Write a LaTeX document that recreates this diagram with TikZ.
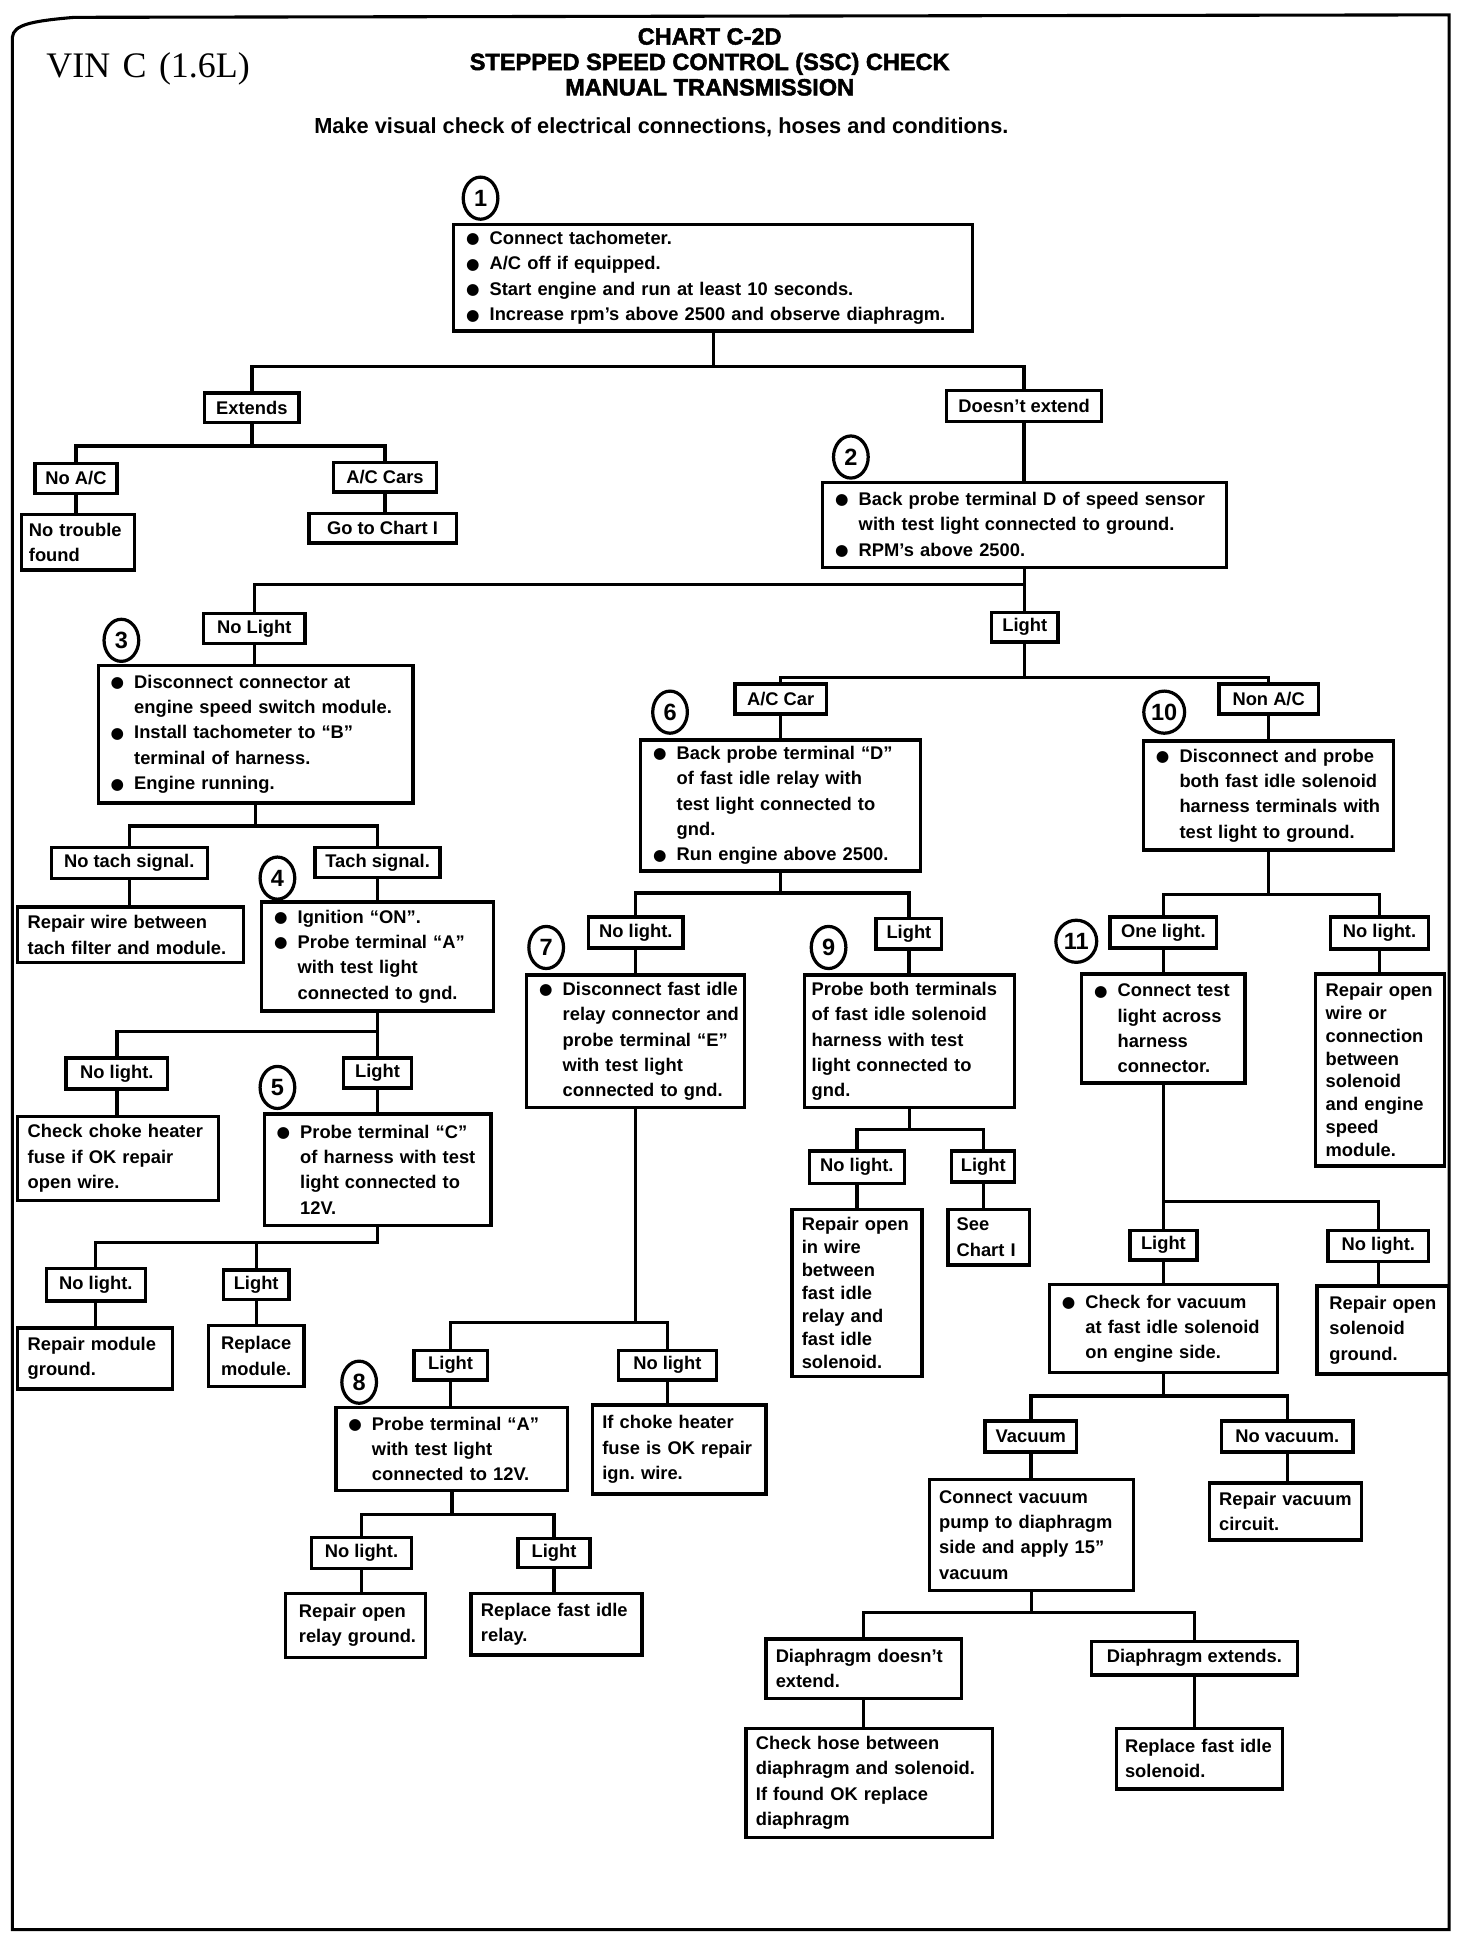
\documentclass[tikz,border=0pt]{standalone}
\usepackage{fontspec}
\setmainfont{Liberation Sans}
\newfontfamily\bxfont{Liberation Sans Bold}
\newfontfamily\ttlfont{Liberation Sans Bold}[FakeBold=2]
\newfontfamily\vinfont{Liberation Serif}
\newfontfamily\symfont{DejaVu Sans}
\usetikzlibrary{shapes.geometric}
\frenchspacing
\newcommand\bl{\makebox[19pt][l]{\raisebox{0.5pt}{\symfont\fontsize{12.5}{12}\selectfont ●}}}
\newcommand\ind{\hspace*{19pt}}
\newcommand\bpad{\leftskip=10pt\relax}
\newcommand\ppad{\leftskip=8pt\relax}
\newcommand\fork[4]{%
  \draw[ln] (#1.south) -- (#1.south |- #2) -- (#3.north |- #2) -- (#3.north);
  \draw[ln] (#4.north) -- (#4.north |- #2) -- (#3.north |- #2);}
\newcommand\lnk[2]{\draw[ln] (#1.south) -- (#1.south |- #2.north);}
\begin{document}
\begin{tikzpicture}[x=1pt,y=-1pt,
  ln/.style={line width=2.7pt, line cap=rect},
  bx/.style 2 args={draw, line width=2.7pt, minimum width=#1pt, minimum height=#2pt,
    text width=#1pt, inner sep=0pt, anchor=north west, align=left,
    font=\bxfont\fontsize{14.8}{20.5}\selectfont},
  bxs/.style 2 args={bx={#1}{#2}, font=\bxfont\fontsize{14.8}{18.5}\selectfont},
  lab/.style 2 args={draw, line width=2.7pt, minimum width=#1pt, minimum height=#2pt,
    inner sep=0pt, anchor=north west, align=center,
    font=\bxfont\fontsize{14.8}{20.5}\selectfont},
  num/.style={draw, ellipse, line width=2.6pt, minimum width=28pt, minimum height=34pt,
    inner sep=0pt, font=\bxfont\fontsize{19}{19}\selectfont},
  numw/.style={num, minimum width=33pt},
]
\useasboundingbox (0,0) rectangle (1188.5,1568);
% frame
\draw[line width=2.5pt] (10,1558) -- (10,30) .. controls (11,20) and (25,17) .. (60,14)
  -- (1170,12) -- (1170,1558) -- cycle;

% headings
\node[font=\vinfont\fontsize{29}{30}\selectfont, anchor=west] (vin) at (34,56)
  {VIN\hspace{10pt}C\hspace{10pt}(1.6L)};
\node[font=\ttlfont\fontsize{19}{20.5}\selectfont, align=center] (title) at (573,50)
  {CHART C-2D\\STEPPED SPEED CONTROL (SSC) CHECK\\MANUAL TRANSMISSION};
\node[font=\bxfont\fontsize{17.6}{22}\selectfont] (inst) at (534,103)
  {Make visual check of electrical connections, hoses and conditions.};

% bar levels
\coordinate (y1) at (0,296);  \coordinate (y2) at (0,360);  \coordinate (y3) at (0,472);
\coordinate (y4) at (0,547);  \coordinate (y5) at (0,667);  \coordinate (y6) at (0,833);
\coordinate (y7) at (0,1003); \coordinate (y8) at (0,721);  \coordinate (y9) at (0,1068);
\coordinate (y10) at (0,1223);\coordinate (y11) at (0,912); \coordinate (y12) at (0,722);
\coordinate (y13) at (0,970); \coordinate (y14) at (0,1127);\coordinate (y15) at (0,1302);

% step numbers
\node[num]  (c1) at (388,160) {1};
\node[num]  (c2) at (687,369) {2};
\node[num]  (c3) at (98,517) {3};
\node[num]  (c4) at (224,709) {4};
\node[num]  (c5) at (224,878) {5};
\node[num]  (c6) at (541,575) {6};
\node[num]  (c7) at (441,765) {7};
\node[num]  (c8) at (290,1116) {8};
\node[num]  (c9) at (669,765) {9};
\node[numw] (c10) at (940,575) {10};
\node[numw] (c11) at (869,760) {11};

% boxes
\node[bx={419}{86}] (b1) at (365,180) {\bpad\bl Connect tachometer.\\\bl A/C off if equipped.\\\bl Start engine and run at least 10 seconds.\\\bl Increase rpm’s above 2500 and observe diaphragm.\par};
\node[lab={76}{24}] (ext) at (164,316) {Extends};
\node[lab={125}{25}] (dne) at (763,314) {Doesn’t extend};
\node[lab={66}{24}] (noac) at (27,373) {No A/C};
\node[lab={83}{24}] (accars) at (268,372) {A/C Cars};
\node[bx={91}{45}] (notrouble) at (16,414) {\leftskip=6pt No trouble\\found\par};
\node[lab={119}{24}] (gochart) at (248,413) {Go to Chart I};
\node[bx={326}{69}] (b2) at (663,388) {\bpad\bl Back probe terminal D of speed sensor\\\ind with test light connected to ground.\\\bl RPM’s above 2500.\par};
\node[lab={82}{24}] (nol3) at (163,494) {No Light};
\node[lab={54}{24}] (lt2) at (799,493) {Light};
\node[bx={254}{111}] (b3) at (78,536) {\bpad\bl Disconnect connector at\\\ind engine speed switch module.\\\bl Install tachometer to “B”\\\ind terminal of harness.\\\bl Engine running.\par};
\node[lab={74}{24}] (accar) at (592,551) {A/C Car};
\node[lab={80}{24}] (nonac) at (983,551) {Non A/C};
\node[bx={226}{106}] (b6) at (516,596) {\bpad\bl Back probe terminal “D”\\\ind of fast idle relay with\\\ind test light connected to\\\ind gnd.\\\bl Run engine above 2500.\par};
\node[bx={202}{88}] (b10) at (922,597) {\bpad\bl Disconnect and probe\\\ind both fast idle solenoid\\\ind harness terminals with\\\ind test light to ground.\par};
\node[lab={126}{25}] (notach) at (40,683) {No tach signal.};
\node[lab={101}{24}] (tach) at (253,683) {Tach signal.};
\node[bx={182}{45}] (repwire) at (13,731) {\ppad Repair wire between\\tach filter and module.\par};
\node[bx={187}{88}] (b4) at (210,727) {\bpad\bl Ignition “ON”.\\\bl Probe terminal “A”\\\ind with test light\\\ind connected to gnd.\par};
\node[lab={82}{25}] (nol4) at (52,853) {No light.};
\node[lab={55}{24}] (lt4) at (276,853) {Light};
\node[bx={162}{68}] (choke) at (13,900) {\ppad Check choke heater\\fuse if OK repair\\open wire.\par};
\node[bx={183}{90}] (b5) at (212,898) {\bpad\bl Probe terminal “C”\\\ind of harness with test\\\ind light connected to\\\ind 12V.\par};
\node[lab={80}{26}] (nol5) at (36,1023) {No light.};
\node[lab={53}{24}] (lt5) at (179,1024) {Light};
\node[bx={125}{49}] (repmod) at (13,1071) {\ppad Repair module\\ground.\par};
\node[lab={77}{49}] (replmod) at (167,1069) {Replace\\module.};
\node[lab={76}{25}] (nol6) at (474,739) {No light.};
\node[lab={53}{25}] (lt6) at (706,740) {Light};
\node[bx={176}{107}] (b7) at (424,786) {\bpad\bl Disconnect fast idle\\\ind relay connector and\\\ind probe terminal “E”\\\ind with test light\\\ind connected to gnd.\par};
\node[bx={170}{107}] (b9) at (648,786) {\leftskip=6pt Probe both terminals\\of fast idle solenoid\\harness with test\\light connected to\\gnd.\par};
\node[lab={77}{26}] (nol9) at (652,928) {No light.};
\node[lab={51}{25}] (lt9) at (767,928) {Light};
\node[bxs={105}{135}] (rep9) at (638,975) {\ppad Repair open\\in wire\\between\\fast idle\\relay and\\fast idle\\solenoid.\par};
\node[bx={66}{45}] (see) at (764,975) {\leftskip=7pt See\\Chart I\par};
\node[lab={59}{24}] (lt7) at (333,1089) {Light};
\node[lab={79}{24}] (nol7) at (498,1089) {No light};
\node[bx={187}{67}] (b8) at (270,1135) {\bpad\bl Probe terminal “A”\\\ind with test light\\\ind connected to 12V.\par};
\node[bx={140}{72}] (ifchoke) at (477,1133) {\ppad If choke heater\\fuse is OK repair\\ign. wire.\par};
\node[lab={81}{25}] (nol8) at (250,1240) {No light.};
\node[lab={58}{23}] (lt8) at (417,1241) {Light};
\node[bx={113}{52}] (reprelay) at (229,1285) {\leftskip=11pt Repair open\\relay ground.\par};
\node[bx={138}{50}] (replrelay) at (379,1285) {\ppad Replace fast idle\\relay.\par};
\node[lab={86}{25}] (onel) at (895,739) {One light.};
\node[lab={79}{26}] (nol10) at (1073,739) {No light.};
\node[bx={132}{88}] (b11) at (872,785) {\bpad\bl Connect test\\\ind light across\\\ind harness\\\ind connector.\par};
\node[bxs={104}{155}] (rep10) at (1061,785) {\ppad Repair open\\wire or\\connection\\between\\solenoid\\and engine\\speed\\module.\par};
\node[lab={54}{24}] (lt11) at (911,992) {Light};
\node[lab={81}{25}] (nol11) at (1071,992) {No light.};
\node[bx={184}{71}] (vacchk) at (846,1036) {\bpad\bl Check for vacuum\\\ind at fast idle solenoid\\\ind on engine side.\par};
\node[bx={106}{71}] (repsol) at (1062,1037) {\leftskip=10pt Repair open\\solenoid\\ground.\par};
\node[lab={74}{25}] (vac) at (794,1146) {Vacuum};
\node[lab={106}{25}] (novac) at (985,1146) {No vacuum.};
\node[bx={165}{90}] (cvp) at (749,1193) {\ppad Connect vacuum\\pump to diaphragm\\side and apply 15”\\vacuum\par};
\node[bx={123}{46}] (repvac) at (975,1196) {\leftskip=8pt Repair vacuum\\circuit.\par};
\node[bx={158}{48}] (ddx) at (617,1322) {\ppad Diaphragm doesn’t\\extend.\par};
\node[lab={166}{27}] (dex) at (880,1324) {Diaphragm extends.};
\node[bx={199}{88}] (hose) at (601,1394) {\ppad Check hose between\\diaphragm and solenoid.\\If found OK replace\\diaphragm\par};
\node[bx={134}{49}] (replsol) at (900,1394) {\leftskip=7pt Replace fast idle\\solenoid.\par};

% connectors
\fork{b1}{y1}{ext}{dne}
\fork{ext}{y2}{noac}{accars}
\lnk{noac}{notrouble}
\lnk{accars}{gochart}
\lnk{dne}{b2}
\fork{b2}{y3}{nol3}{lt2}
\lnk{nol3}{b3}
\fork{lt2}{y4}{accar}{nonac}
\lnk{accar}{b6}
\lnk{nonac}{b10}
\fork{b3}{y5}{notach}{tach}
\lnk{notach}{repwire}
\lnk{tach}{b4}
\fork{b4}{y6}{nol4}{lt4}
\lnk{nol4}{choke}
\lnk{lt4}{b5}
\fork{b5}{y7}{nol5}{lt5}
\lnk{nol5}{repmod}
\lnk{lt5}{replmod}
\fork{b6}{y8}{nol6}{lt6}
\lnk{nol6}{b7}
\lnk{lt6}{b9}
\fork{b9}{y11}{nol9}{lt9}
\lnk{nol9}{rep9}
\lnk{lt9}{see}
\fork{b7}{y9}{lt7}{nol7}
\lnk{lt7}{b8}
\lnk{nol7}{ifchoke}
\fork{b8}{y10}{nol8}{lt8}
\lnk{nol8}{reprelay}
\lnk{lt8}{replrelay}
\fork{b10}{y12}{onel}{nol10}
\lnk{onel}{b11}
\lnk{nol10}{rep10}
\fork{b11}{y13}{lt11}{nol11}
\lnk{lt11}{vacchk}
\lnk{nol11}{repsol}
\fork{vacchk}{y14}{vac}{novac}
\lnk{vac}{cvp}
\lnk{novac}{repvac}
\fork{cvp}{y15}{ddx}{dex}
\lnk{ddx}{hose}
\lnk{dex}{replsol}
\end{tikzpicture}
\end{document}
